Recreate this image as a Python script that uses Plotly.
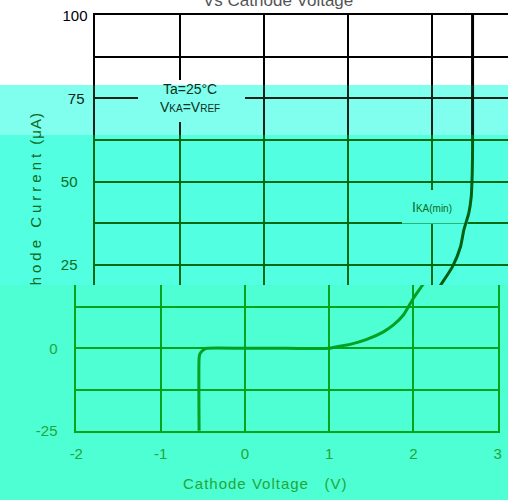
import plotly.graph_objects as go

# ---------------- data ----------------
volts = [-0.543, -0.543, -0.535, -0.51, -0.48, -0.45, 0.0, 0.5, 1.0, 1.091, 1.249, 1.447,
         1.644, 1.763, 1.881, 2.0, 2.1, 2.24, 2.335, 2.374, 2.433, 2.462, 2.474, 2.478, 2.478]
current = [-25, -3.0, -1.8, -0.9, -0.3, 0, 0, 0, 0, 0.49, 1.2, 2.7,
           5.0, 7.1, 10.1, 15.2, 18.9, 24.4, 30.4, 35.4, 40.5, 45.4, 52.5, 60, 103]
x_ticks = [-2, -1, 0, 1, 2, 3]
x_labels = ['-2', '-1', '0', '1', '2', '3']
y_grid = [-25, -12.5, 0, 12.5, 25, 37.5, 50, 62.5, 75, 87.5, 100]
y_labels = ['-25', '', '0', '', '25', '', '50', '', '75', '', '100']

W, H = 508, 500
FONT = 'Liberation Sans, Arial, sans-serif'

BAND_B = '#80FFEE'
BAND_C = '#52FFE0'
BAND_D = '#4DFFD2'

# pixel geometry of the (glitched) picture
TOP_X0, TOP_PPV = 95.3, 84.25        # upper part: -2 V at 95.3 px
TOP_Y100, TOP_PPU = 15.3, 3.325      # upper part: 100 at 15.3 px
BOT_X0, BOT_X1 = 76.3, 497.7         # lower part
BOT_Y0, BOT_PPU = 348.3, 3.296       # lower part: 0 at 348.3 px


def top_val(p):
    return 100 - (p - TOP_Y100) / TOP_PPU


def bot_val(p):
    return (BOT_Y0 - p) / BOT_PPU


def fy(p):
    return 1 - p / H


top_xrange = [-2, -2 + (W - TOP_X0) / TOP_PPV]

sections = [
    dict(k='', top=TOP_Y100 - 0.1 * TOP_PPU, bot=85, fn=top_val, grid='#000000',
         txt='#000000', curve='#000000', so=3),
    dict(k='2', top=85, bot=135, fn=top_val, grid='#10241a',
         txt='#10241a', curve='#0a1f12', so=6),
    dict(k='3', top=135, bot=285, fn=top_val, grid='#006b10',
         txt='#0f6a1f', curve='#005f10', so=13),
    dict(k='4', top=285, bot=BOT_Y0 + 25.1 * BOT_PPU, fn=bot_val, grid='#00a51c',
         txt='#22a63a', curve='#00a020', so=14),
]

fig = go.Figure()
layout = dict(
    width=W, height=H, margin=dict(l=0, r=0, t=0, b=0, pad=0, autoexpand=False),
    paper_bgcolor='#FFFFFF', plot_bgcolor='rgba(0,0,0,0)',
    showlegend=False, font=dict(family=FONT, size=15),
)

for s in sections:
    k = s['k']
    lower = (k == '4')
    fig.add_trace(go.Scatter(
        x=volts, y=current, mode='lines', xaxis='x' + k, yaxis='y' + k,
        line=dict(color=s['curve'], width=3, shape='spline', smoothing=0.6),
        hoverinfo='skip'))
    xa = dict(
        anchor='y' + k,
        domain=[BOT_X0 / W, BOT_X1 / W] if lower else [TOP_X0 / W, 1],
        range=[-2, 3] if lower else top_xrange,
        tickvals=x_ticks, ticktext=x_labels,
        showticklabels=lower, ticks='', automargin=False,
        showgrid=True, gridcolor=s['grid'], gridwidth=1.5,
        zeroline=False, fixedrange=True,
        tickfont=dict(color=s['txt'], size=15, family=FONT),
    )
    if lower:
        xa.update(showline=True, linecolor=s['grid'], linewidth=1.5,
                  ticklabelstandoff=8)
    if k == '':
        xa.update(showline=True, linecolor='#000000', linewidth=1.5, side='top')
    ya = dict(
        anchor='x' + k,
        domain=[fy(s['bot']), fy(s['top'])],
        range=[s['fn'](s['bot']), s['fn'](s['top'])],
        tickvals=y_grid, ticktext=y_labels, ticks='', automargin=False,
        showgrid=True, gridcolor=s['grid'], gridwidth=1.5,
        zeroline=False, fixedrange=True,
        showline=True, linecolor=s['grid'], linewidth=1.5,
        mirror=lower, ticklabelstandoff=s['so'],
        tickfont=dict(color=s['txt'], size=15, family=FONT),
    )
    layout['xaxis' + k] = xa
    layout['yaxis' + k] = ya

fig.update_layout(**layout)

# ---- background bands of the picture (paper, below everything) ----
def band(y0p, y1p, color):
    fig.add_shape(type='rect', xref='paper', yref='paper', x0=0, x1=1,
                  y0=fy(y1p), y1=fy(y0p), fillcolor=color, line_width=0,
                  layer='below')

band(85, 135, BAND_B)
band(135, 285, BAND_C)

# y-axis title (partly hidden by the lower band, as in the picture)
fig.add_shape(
    type='line', xref='paper', yref='paper', x0=35 / W, x1=35 / W,
    y0=fy(320.7), y1=fy(112), line=dict(color='rgba(0,0,0,0)', width=0),
    layer='below',
    label=dict(text="<span style='letter-spacing:4px'>Cathode Current</span>"
                    "<span style='letter-spacing:1px'> (μA)</span>",
               textangle=-90, textposition='middle', xanchor='center',
               yanchor='middle', font=dict(color='#0f6a1f', size=15, family=FONT)))

band(285, H + 2, BAND_D)

# ---- masks behind the in-plot labels (between grid and traces) ----
vx = lambda p: -2 + (p - TOP_X0) / TOP_PPV
fig.add_shape(type='rect', xref='x', yref='y', x0=vx(138), x1=vx(245),
              y0=top_val(85), y1=top_val(80), fillcolor='#FFFFFF',
              line_width=0, layer='between')
fig.add_shape(type='rect', xref='x2', yref='y2', x0=vx(138), x1=vx(245),
              y0=top_val(122), y1=top_val(85), fillcolor=BAND_B,
              line_width=0, layer='between')
fig.add_shape(type='rect', xref='x3', yref='y3', x0=vx(402), x1=vx(468),
              y0=top_val(223.5), y1=top_val(190), fillcolor=BAND_C,
              line_width=0, layer='between')

# ---- annotations ----
fig.add_annotation(xref='paper', yref='paper', x=278 / W, y=fy(0),
                   text='Vs Cathode Voltage', showarrow=False,
                   xanchor='center', yanchor='middle',
                   font=dict(color='#555555', size=17, family=FONT))
fig.add_annotation(xref='paper', yref='paper', x=190 / W, y=fy(98),
                   text="Ta=25°C<br>V<span style='font-size:10px'>KA</span>=V"
                        "<span style='font-size:10px'>REF</span>",
                   showarrow=False, xanchor='center', yanchor='middle',
                   font=dict(color='#0b3320', size=14, family=FONT))
fig.add_annotation(xref='paper', yref='paper', x=432 / W, y=fy(206.7),
                   text="I<span style='font-size:10px'>KA(min)</span>",
                   showarrow=False, xanchor='center', yanchor='middle',
                   font=dict(color='#0d6a1d', size=14, family=FONT))
fig.add_annotation(xref='paper', yref='paper', x=265 / W, y=fy(483),
                   text="<span style='letter-spacing:1px'>Cathode Voltage\u00a0\u00a0 (V)</span>",
                   showarrow=False, xanchor='center', yanchor='middle',
                   font=dict(color='#22a63a', size=15, family=FONT))

fig.write_html('out.html', config={'displayModeBar': False},
               post_script="document.body.style.margin='0px';"
                           "document.body.style.overflow='hidden';")
